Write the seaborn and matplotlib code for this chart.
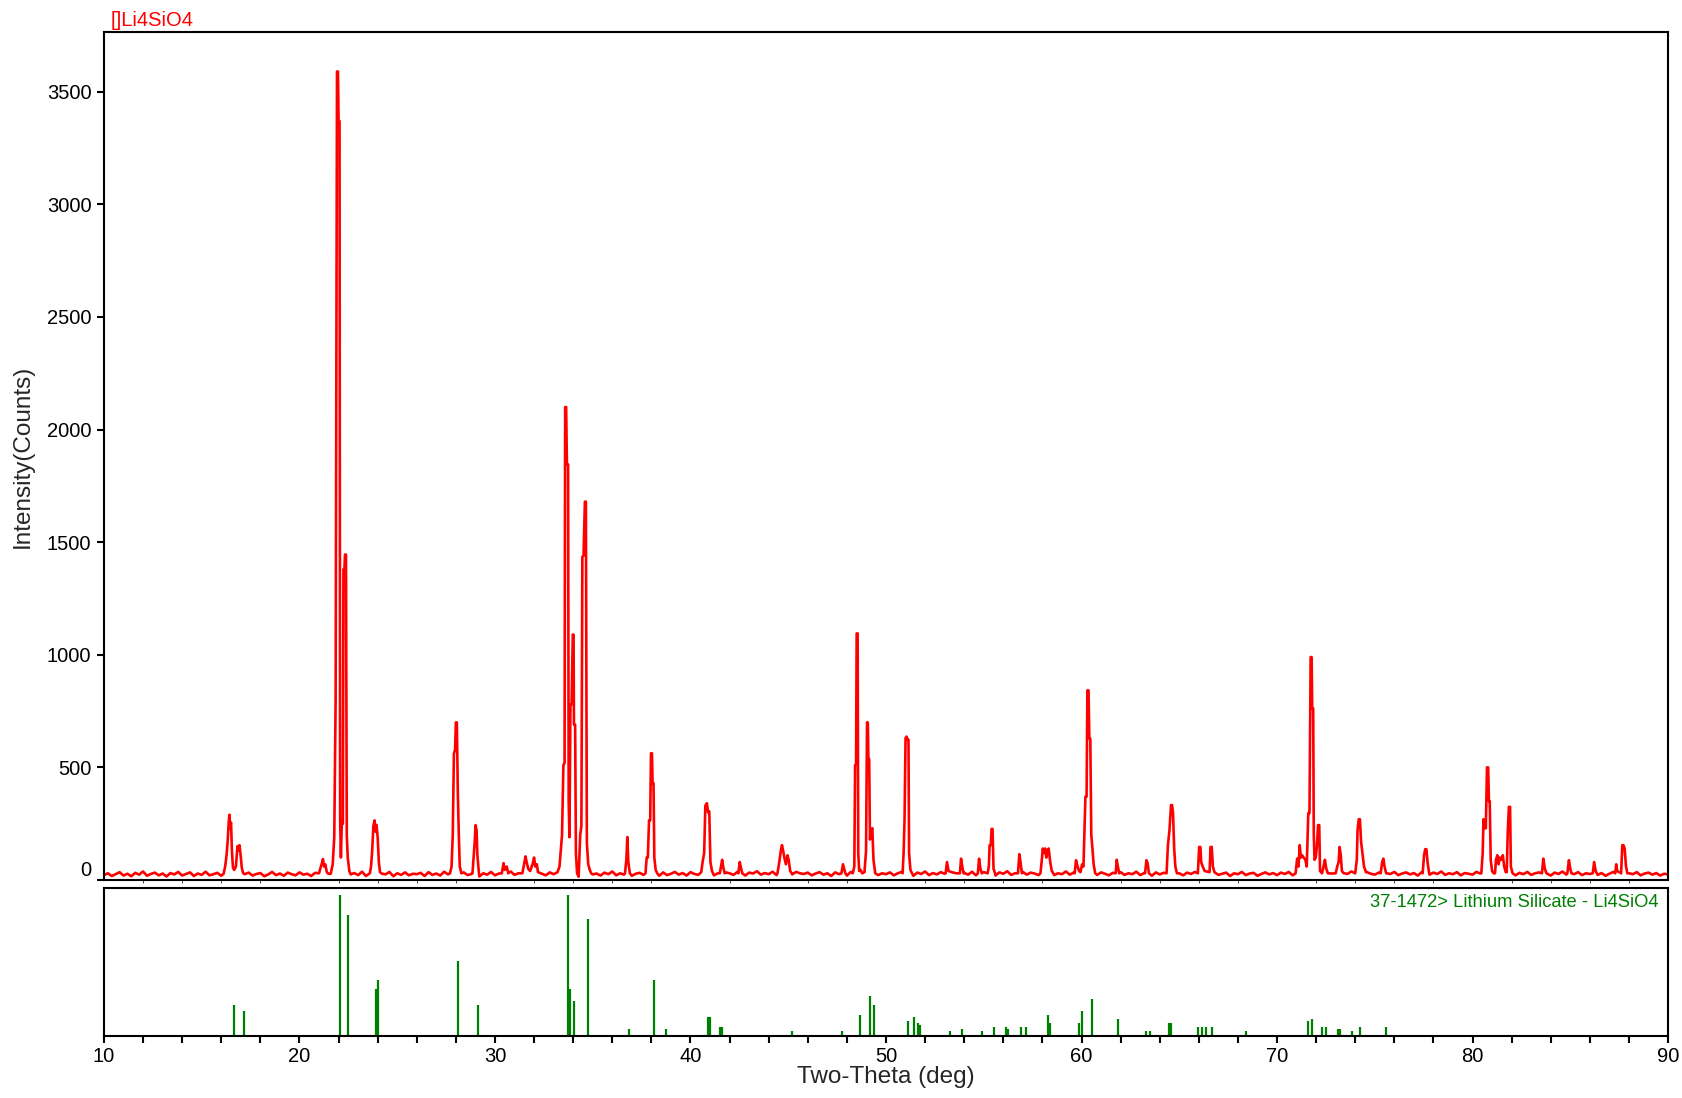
import matplotlib
matplotlib.use("Agg")
import matplotlib.pyplot as plt
from matplotlib.ticker import MultipleLocator
import numpy as np
import seaborn as sns

# measured XRD trace: background counts read every 0.2 deg from 10 to 90
baseline_counts = [
    22, 30, 18, 26, 35, 20, 28, 17, 32, 24, 38, 19, 27, 33, 21, 29, 16, 31, 25, 36,
    20, 27, 34, 18, 29, 23, 37, 21, 26, 32, 19, 28, 24, 35, 22, 30, 26, 33, 20, 27,
    31, 17, 25, 36, 22, 29, 19, 33, 26, 21, 34, 24, 28, 18, 32, 27, 23, 38, 25, 30,
    24, 35, 19, 28, 31, 22, 37, 18, 27, 33, 20, 29, 25, 36, 17, 30, 23, 34, 21, 28,
    26, 32, 18, 35, 23, 29, 20, 37, 25, 31, 19, 28, 34, 22, 27, 33, 16, 30, 24, 36,
    21, 29, 33, 25, 38, 23, 30, 19, 35, 27, 24, 39, 28, 21, 34, 26, 31, 37, 29, 33,
    27, 22, 31, 18, 36, 25, 29, 20, 33, 26, 38, 21, 30, 24, 35, 19, 28, 32, 23, 37,
    25, 30, 19, 34, 22, 28, 36, 24, 31, 20, 35, 27, 23, 33, 29, 38, 21, 30, 26, 34,
    30, 23, 36, 27, 20, 33, 29, 39, 24, 31, 26, 37, 22, 34, 28, 41, 25, 36, 30, 27,
    33, 21, 29, 35, 24, 30, 18, 34, 26, 31, 20, 36, 27, 23, 32, 25, 29, 37, 22, 30,
    26, 34, 21, 30, 36, 24, 29, 19, 33, 27, 38, 22, 31, 25, 35, 28, 21, 34, 30, 26,
    32, 24, 37, 21, 29, 35, 26, 31, 20, 34, 28, 39, 23, 30, 27, 36, 24, 33, 29, 22,
    31, 27, 35, 22, 30, 26, 38, 24, 33, 20, 29, 36, 25, 31, 23, 34, 28, 21, 32, 27,
    35, 23, 30, 26, 37, 22, 31, 28, 19, 34, 25, 32, 29, 38, 24, 30, 21, 33, 27, 36,
    24, 31, 20, 29, 35, 23, 28, 33, 18, 30, 26, 36, 22, 29, 32, 19, 27, 34, 25, 31,
    22, 33, 27, 36, 21, 30, 25, 34, 28, 20, 32, 26, 37, 23, 29, 35, 24, 31, 27, 38,
    26, 32, 21, 35, 28, 24, 33, 19, 30, 27, 36, 22, 29, 34, 25, 31, 20, 35, 28, 24,
    33, 27, 38, 23, 30, 26, 35, 21, 31, 28, 24, 36, 29, 22, 34, 27, 37, 25, 30, 33,
    28, 21, 32, 26, 36, 23, 30, 34, 25, 29, 20, 33, 27, 38, 24, 31, 26, 35, 22, 30,
    27, 34, 23, 31, 19, 28, 36, 25, 32, 22, 30, 26, 35, 21, 29, 33, 24, 31, 20, 28,
    25,
]

# peak regions of the trace, (two-theta, counts) vertices
peak_groups = [
    [(16.12, 28), (16.2, 60), (16.27, 110), (16.33, 175), (16.38, 255), (16.42, 290),
     (16.46, 230), (16.5, 255), (16.55, 120), (16.6, 55), (16.66, 45), (16.75, 60),
     (16.83, 150), (16.88, 130), (16.93, 155), (16.98, 120), (17.05, 55), (17.12, 30)],
    [(21.0, 30), (21.08, 55), (21.15, 75), (21.2, 93), (21.26, 60), (21.32, 70),
     (21.4, 35), (21.48, 28)],
    [(21.6, 28), (21.7, 70), (21.78, 190), (21.85, 800), (21.92, 3590), (21.97, 3590),
     (22.0, 3370), (22.05, 3370), (22.08, 270), (22.12, 100), (22.17, 270), (22.22, 250),
     (22.25, 1380), (22.3, 1380), (22.33, 1445), (22.38, 1445), (22.42, 200),
     (22.47, 100), (22.55, 40), (22.62, 25)],
    [(23.6, 30), (23.66, 60), (23.72, 130), (23.78, 240), (23.84, 265), (23.89, 215),
     (23.94, 245), (24.0, 190), (24.06, 80), (24.12, 35)],
    [(27.7, 30), (27.78, 60), (27.84, 200), (27.9, 560), (27.96, 580), (28.0, 700),
     (28.05, 700), (28.1, 390), (28.15, 200), (28.2, 60), (28.28, 30)],
    [(28.85, 30), (28.9, 90), (28.96, 165), (29.01, 244), (29.06, 220), (29.1, 110),
     (29.17, 40)],
    [(30.35, 30), (30.44, 75), (30.5, 45), (30.6, 60), (30.68, 30)],
    [(31.4, 30), (31.5, 75), (31.56, 105), (31.62, 80), (31.7, 50), (31.8, 40),
     (31.92, 70), (32.0, 100), (32.06, 60), (32.14, 70), (32.2, 35)],
    [(33.2, 35), (33.3, 60), (33.36, 125), (33.43, 200), (33.5, 510), (33.56, 520),
     (33.59, 2100), (33.64, 2100), (33.68, 1845), (33.74, 1845), (33.77, 350),
     (33.81, 190), (33.86, 780), (33.92, 780), (33.98, 1090), (34.02, 1090),
     (34.04, 690), (34.1, 690), (34.14, 120), (34.2, 30), (34.28, 15), (34.36, 200),
     (34.42, 240), (34.47, 1435), (34.53, 1440), (34.6, 1680), (34.65, 1680),
     (34.7, 165), (34.77, 70), (34.85, 45), (34.92, 30)],
    [(36.65, 30), (36.72, 90), (36.77, 191), (36.82, 80), (36.9, 30)],
    [(37.7, 30), (37.76, 100), (37.82, 100), (37.88, 265), (37.94, 265), (37.98, 563),
     (38.03, 563), (38.06, 430), (38.11, 430), (38.15, 100), (38.22, 45), (38.3, 30)],
    [(40.55, 35), (40.62, 80), (40.7, 120), (40.76, 330), (40.84, 341), (40.9, 300),
     (40.96, 305), (41.02, 80), (41.1, 40)],
    [(41.5, 30), (41.58, 70), (41.62, 90), (41.68, 55), (41.75, 30)],
    [(42.45, 30), (42.52, 80), (42.58, 55), (42.65, 30)],
    [(44.45, 30), (44.55, 85), (44.62, 130), (44.68, 155), (44.74, 130), (44.8, 100),
     (44.88, 70), (44.96, 110), (45.02, 90), (45.1, 40), (45.18, 30)],
    [(47.72, 30), (47.8, 70), (47.86, 50), (47.92, 30)],
    [(48.3, 30), (48.38, 60), (48.42, 510), (48.47, 515), (48.5, 1095), (48.55, 1095),
     (48.58, 120), (48.63, 40), (48.7, 45), (48.78, 30), (48.9, 35), (48.98, 130),
     (49.03, 700), (49.07, 700), (49.1, 537), (49.14, 537), (49.18, 180), (49.24, 215),
     (49.3, 230), (49.36, 90), (49.45, 30)],
    [(50.85, 30), (50.9, 120), (50.95, 270), (51.0, 630), (51.05, 637), (51.1, 623),
     (51.15, 623), (51.18, 120), (51.25, 45), (51.33, 30)],
    [(53.05, 30), (53.12, 80), (53.2, 40)],
    [(53.78, 30), (53.84, 95), (53.9, 60), (53.97, 30)],
    [(54.7, 30), (54.76, 95), (54.82, 55), (54.9, 30)],
    [(55.2, 30), (55.26, 60), (55.3, 155), (55.36, 155), (55.4, 227), (55.45, 227),
     (55.5, 50), (55.58, 30)],
    [(56.75, 30), (56.82, 115), (56.88, 80), (56.95, 30)],
    [(57.9, 30), (57.96, 80), (58.02, 140), (58.08, 120), (58.14, 140), (58.2, 100),
     (58.26, 130), (58.32, 140), (58.4, 80), (58.48, 40), (58.56, 30)],
    [(59.65, 30), (59.72, 88), (59.8, 60), (59.88, 40)],
    [(59.95, 35), (60.03, 70), (60.1, 60), (60.2, 370), (60.26, 370), (60.3, 842),
     (60.36, 842), (60.4, 628), (60.45, 628), (60.5, 200), (60.55, 150), (60.62, 70),
     (60.7, 30)],
    [(61.75, 30), (61.8, 90), (61.86, 60), (61.93, 30)],
    [(63.25, 30), (63.32, 88), (63.38, 75), (63.45, 30)],
    [(64.35, 30), (64.42, 155), (64.5, 222), (64.58, 333), (64.63, 333), (64.68, 300),
     (64.74, 140), (64.8, 60), (64.88, 30)],
    [(65.95, 30), (66.02, 147), (66.08, 147), (66.12, 80), (66.2, 60), (66.3, 40),
     (66.55, 35), (66.6, 147), (66.66, 147), (66.72, 60), (66.8, 35)],
    [(70.95, 30), (71.03, 95), (71.1, 60), (71.16, 155), (71.22, 100), (71.28, 110),
     (71.36, 100), (71.45, 90), (71.52, 60), (71.6, 297), (71.66, 297), (71.72, 990),
     (71.77, 990), (71.8, 762), (71.85, 762), (71.88, 200), (71.92, 90), (71.98, 100),
     (72.04, 150), (72.1, 244), (72.16, 244), (72.2, 40), (72.3, 30), (72.38, 60),
     (72.45, 90), (72.52, 50), (72.6, 30)],
    [(73.0, 30), (73.08, 60), (73.15, 80), (73.2, 147), (73.26, 110), (73.32, 40)],
    [(74.0, 30), (74.08, 90), (74.12, 222), (74.18, 270), (74.24, 270), (74.3, 170),
     (74.38, 110), (74.45, 60), (74.55, 35)],
    [(75.3, 30), (75.38, 80), (75.44, 95), (75.5, 60), (75.58, 30)],
    [(77.45, 30), (77.52, 110), (77.58, 137), (77.64, 137), (77.7, 80), (77.78, 30)],
    [(80.45, 30), (80.52, 120), (80.56, 270), (80.62, 230), (80.68, 230), (80.74, 500),
     (80.8, 500), (80.84, 350), (80.88, 350), (80.93, 90), (81.0, 40), (81.08, 30)],
    [(81.15, 30), (81.2, 90), (81.27, 110), (81.33, 70), (81.4, 100), (81.47, 90),
     (81.55, 110), (81.62, 60), (81.7, 35)],
    [(81.75, 35), (81.8, 210), (81.86, 325), (81.92, 325), (81.96, 60), (82.05, 30)],
    [(83.55, 30), (83.62, 95), (83.7, 50), (83.78, 30)],
    [(84.85, 30), (84.93, 88), (85.0, 50), (85.06, 30)],
    [(86.15, 30), (86.22, 80), (86.3, 40)],
    [(87.3, 30), (87.35, 70), (87.4, 40)],
    [(87.6, 30), (87.66, 155), (87.72, 155), (87.78, 140), (87.85, 60), (87.92, 30)],
]

# reference pattern 37-1472 (relative intensity, %)
stick_2theta = [
    16.64, 17.14, 22.05, 22.48, 23.90, 24.01, 28.10, 29.13, 33.73, 33.82, 34.04, 34.75,
    36.88, 38.12, 38.73, 40.89, 40.99, 41.50, 41.60, 45.18, 47.74, 48.65, 49.16, 49.38,
    51.12, 51.41, 51.63, 51.74, 53.25, 53.89, 54.90, 55.50, 56.12, 56.24, 56.93, 57.16,
    58.28, 58.39, 59.89, 60.01, 60.54, 61.86, 63.32, 63.50, 64.49, 64.60, 65.95, 66.14,
    66.35, 66.66, 68.40, 71.57, 71.79, 72.30, 72.50, 73.12, 73.22, 73.82, 74.25, 75.58,
]
stick_intensity = [
    22, 18, 100, 86, 33, 40, 53, 22, 100, 33, 25, 83,
    5, 40, 5, 13.5, 13.5, 6.4, 6.4, 3.5, 3.5, 15, 28, 22,
    10.6, 13.5, 9, 8, 3.5, 5, 3.5, 6.4, 6.4, 5, 6.4, 6.4,
    15, 9, 9, 17.7, 26, 12, 3.5, 3.5, 9, 9, 6.4, 6.4,
    6.4, 6.4, 3.5, 10.6, 12, 6.4, 6.4, 5, 5, 3.5, 6.4, 6.4,
]

count_ticks = [0, 500, 1000, 1500, 2000, 2500, 3000, 3500]
angle_ticks = [10, 20, 30, 40, 50, 60, 70, 80, 90]

sns.set_style("ticks")
plt.rcParams['font.family'] = ['Liberation Sans', 'DejaVu Sans']

# put the peak vertices into the background scan
base_x = np.linspace(10, 90, len(baseline_counts))
base_y = np.array(baseline_counts, dtype=float)
keep = np.ones(len(base_x), dtype=bool)
for group in peak_groups:
    keep &= ~((base_x >= group[0][0]) & (base_x <= group[-1][0]))
peak_x = np.array([p[0] for g in peak_groups for p in g])
peak_y = np.array([p[1] for g in peak_groups for p in g], dtype=float)
scan_x = np.concatenate([base_x[keep], peak_x])
scan_y = np.concatenate([base_y[keep], peak_y])
order = np.argsort(scan_x, kind='stable')
scan_x, scan_y = scan_x[order], scan_y[order]

fig = plt.figure(figsize=(16.82, 10.98), dpi=100)
ax_top = fig.add_axes([0.0618, 0.1985, 0.9299, 0.7723])
ax_ref = fig.add_axes([0.0618, 0.0565, 0.9299, 0.1348], sharex=ax_top)

sns.lineplot(x=scan_x, y=scan_y, ax=ax_top, color='#ff0000', linewidth=1.9,
             estimator=None, sort=False)
ax_ref.vlines(stick_2theta, 0, stick_intensity, color='#008000', linewidth=1.6)

for ax in (ax_top, ax_ref):
    for side in ('left', 'right', 'top', 'bottom'):
        ax.spines[side].set_visible(True)
        ax.spines[side].set_linewidth(1.5)
        ax.spines[side].set_color('black')

ax_top.set_xlim(10, 90)
ax_top.set_ylim(0, 3765)
ax_top.set_yticks(count_ticks)
ax_top.tick_params(axis='y', direction='out', length=5, width=1.5, pad=4,
                   labelsize=14.5, colors='black')
ax_top.tick_params(axis='x', bottom=False, labelbottom=False)
ax_top.get_yticklabels()[0].set_va('bottom')
ax_top.set_ylabel('Intensity(Counts)', fontsize=17.5)
ax_top.yaxis.set_label_coords(-0.045, 0.5)
ax_top.set_xlabel('')

ax_ref.set_ylim(0, 105)
ax_ref.set_yticks([])
ax_ref.set_xticks(angle_ticks)
ax_ref.xaxis.set_minor_locator(MultipleLocator(2))
ax_ref.tick_params(axis='x', which='both', direction='out', length=5, width=1.5,
                   pad=3, labelsize=14.5, colors='black')
ax_ref.set_xlabel('Two-Theta (deg)', fontsize=17.5, labelpad=0)

ax_ref.text(0.9936, 0.9, '37-1472> Lithium Silicate - Li4SiO4', color='#008000',
            fontsize=13.2, ha='right', va='center', transform=ax_ref.transAxes)
fig.text(0.0655, 0.981, '[]Li4SiO4', color='#ff0000', fontsize=14.5,
         ha='left', va='center')

plt.savefig('out.png', dpi=100)
